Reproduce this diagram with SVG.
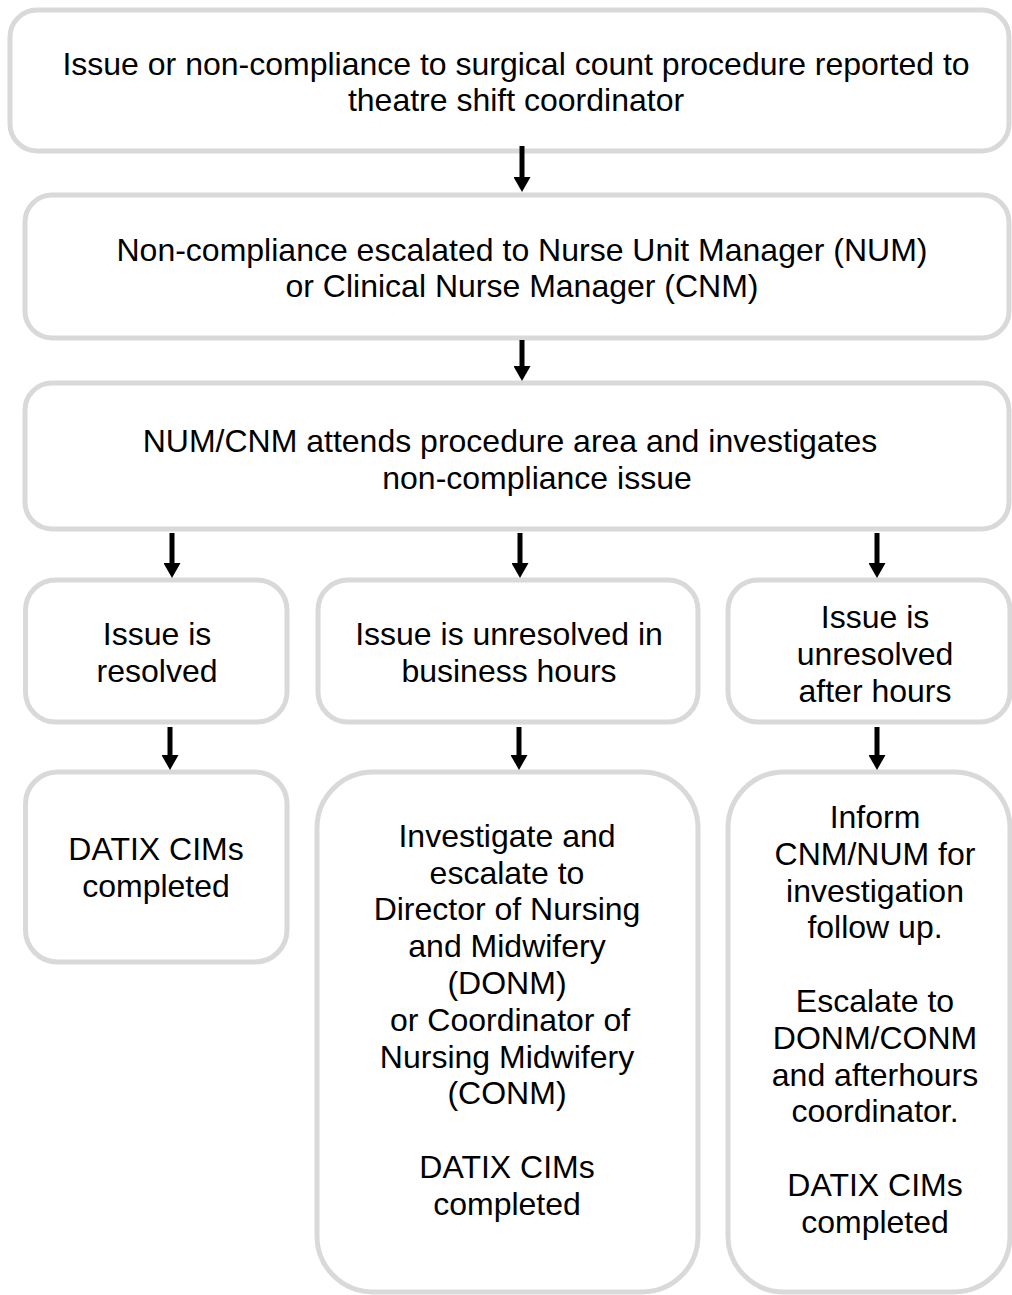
<svg xmlns="http://www.w3.org/2000/svg" width="1012" height="1295" viewBox="0 0 1012 1295">
<style>
.box{fill:#ffffff;stroke:#d9d9d9;stroke-width:5}
.t{font-family:"Liberation Sans",Arial,Helvetica,sans-serif;font-size:32px;fill:#000000;text-anchor:middle}
.c{stroke:#000000;stroke-width:5;fill:none;marker-end:url(#ah)}
</style>
<defs>
<marker id="ah" markerUnits="userSpaceOnUse" markerWidth="16" markerHeight="17" refX="2" refY="8.5" orient="auto" viewBox="0 0 16 17">
<path d="M0,0 L15,8.5 L0,17 z" fill="#000000"/>
</marker>
</defs>
<rect width="1012" height="1295" fill="#ffffff"/>
<g id="n1">
<rect class="box" x="10" y="10" width="999" height="141" rx="27"/>
<text class="t" x="516" y="75">Issue or non-compliance to surgical count procedure reported to</text>
<text class="t" x="516" y="111">theatre shift coordinator</text>
</g>
<g id="n2">
<rect class="box" x="25" y="195" width="984" height="143" rx="27"/>
<text class="t" x="522" y="261">Non-compliance escalated to Nurse Unit Manager (NUM)</text>
<text class="t" x="522" y="297">or Clinical Nurse Manager (CNM)</text>
</g>
<g id="n3">
<rect class="box" x="25" y="383" width="984" height="146" rx="27"/>
<text class="t" x="510" y="452">NUM/CNM attends procedure area and investigates</text>
<text class="t" x="537" y="489">non-compliance issue</text>
</g>
<g id="n4a">
<rect class="box" x="25.5" y="580" width="261.5" height="142" rx="30"/>
<text class="t" x="157" y="645">Issue is</text>
<text class="t" x="157" y="682">resolved</text>
</g>
<g id="n4b">
<rect class="box" x="318" y="580" width="380" height="142" rx="30"/>
<text class="t" x="509" y="645">Issue is unresolved in</text>
<text class="t" x="509" y="682">business hours</text>
</g>
<g id="n4c">
<rect class="box" x="728" y="580" width="282" height="142" rx="30"/>
<text class="t" x="875" y="628">Issue is</text>
<text class="t" x="875" y="665">unresolved</text>
<text class="t" x="875" y="702">after hours</text>
</g>
<g id="n5a">
<rect class="box" x="25.5" y="772" width="261.5" height="190" rx="32"/>
<text class="t" x="156" y="860">DATIX CIMs</text>
<text class="t" x="156" y="897">completed</text>
</g>
<g id="n5b">
<rect class="box" x="317" y="772" width="381" height="520" rx="56"/>
<text class="t" x="507" y="847">Investigate and</text>
<text class="t" x="507" y="884">escalate to</text>
<text class="t" x="507" y="920">Director of Nursing</text>
<text class="t" x="507" y="957">and Midwifery</text>
<text class="t" x="507" y="994">(DONM)</text>
<text class="t" x="510" y="1031">or Coordinator of</text>
<text class="t" x="507" y="1068">Nursing Midwifery</text>
<text class="t" x="507" y="1104">(CONM)</text>
<text class="t" x="507" y="1178">DATIX CIMs</text>
<text class="t" x="507" y="1215">completed</text>
</g>
<g id="n5c">
<rect class="box" x="728" y="772" width="282" height="520" rx="56"/>
<text class="t" x="875" y="828">Inform</text>
<text class="t" x="875" y="865">CNM/NUM for</text>
<text class="t" x="875" y="902">investigation</text>
<text class="t" x="875" y="938">follow up.</text>
<text class="t" x="875" y="1012">Escalate to</text>
<text class="t" x="875" y="1049">DONM/CONM</text>
<text class="t" x="875" y="1086">and afterhours</text>
<text class="t" x="875" y="1122">coordinator.</text>
<text class="t" x="875" y="1196">DATIX CIMs</text>
<text class="t" x="875" y="1233">completed</text>
</g>
<g id="connectors">
<path class="c" d="M522,146 V179"/>
<path class="c" d="M522,340 V368"/>
<path class="c" d="M172,533 V565"/>
<path class="c" d="M520,533 V565"/>
<path class="c" d="M877,533 V565"/>
<path class="c" d="M170,727 V757"/>
<path class="c" d="M519,727 V757"/>
<path class="c" d="M877,727 V757"/>
</g>
</svg>
